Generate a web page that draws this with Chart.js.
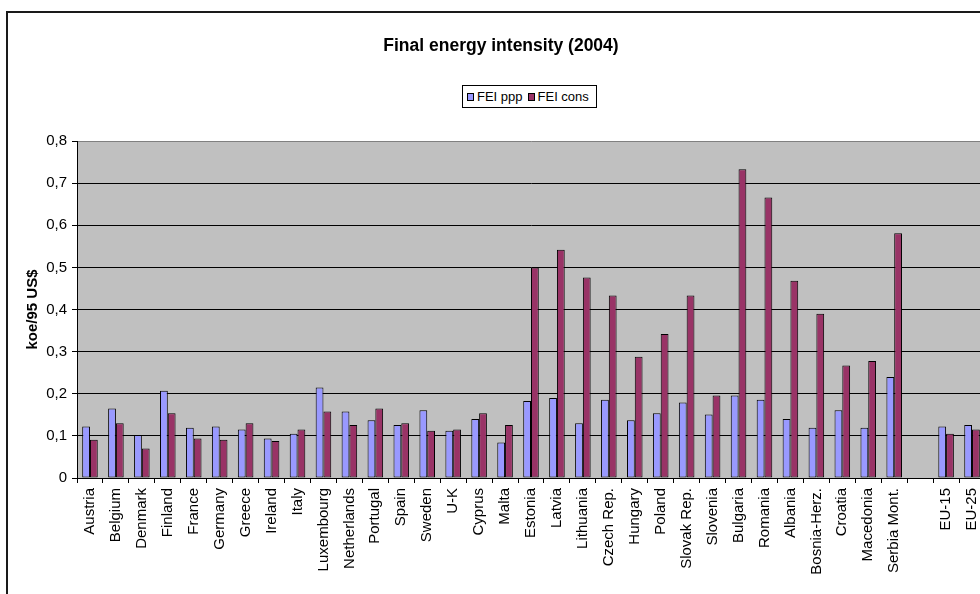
<!DOCTYPE html>
<html>
<head>
<meta charset="utf-8">
<script src="https://cdn.jsdelivr.net/npm/chart.js@4"></script>
<style>
  html, body { margin: 0; padding: 0; overflow: hidden; background: #fff; }
  body { width: 980px; height: 594px; position: relative; font-family: 'Liberation Sans', Arial, sans-serif; }
  #frame { position: absolute; left: 6px; top: 11px; width: 1100px; height: 700px; border-left: 2px solid #1a1a1a; border-top: 2px solid #1a1a1a; }
  #wrap { position: absolute; left: 0; top: 0; width: 1000px; height: 594px; }
  #title { position: absolute; left: 0; width: 1002px; top: 35px; text-align: center; font-weight: bold; font-size: 17.5px; color: #000; }
  #legend { position: absolute; left: 462px; top: 85px; width: 133px; height: 21px; border: 1px solid #000; background: #fff; font-size: 13px; line-height: 21px; color: #000; white-space: nowrap; }
  #legend span.box { display: inline-block; width: 5px; height: 6px; border: 1px solid #000; margin: 0 3px 0 4px; vertical-align: 0px; }
</style>
</head>
<body>
<div id="frame"></div>
<div id="wrap"><canvas id="barChartFEI"></canvas></div>
<div id="title">Final energy intensity (2004)</div>
<div id="legend"><span class="box" style="background:#9999FF"></span>FEI ppp<span class="box" style="background:#993366;margin-left:5px"></span>FEI cons</div>
<script>
var countries = ["Austria", "Belgium", "Denmark", "Finland", "France", "Germany", "Greece", "Ireland", "Italy", "Luxembourg",
  "Netherlands", "Portugal", "Spain", "Sweden", "U-K", "Cyprus", "Malta", "Estonia", "Latvia", "Lithuania",
  "Czech Rep.", "Hungary", "Poland", "Slovak Rep.", "Slovenia", "Bulgaria", "Romania", "Albania", "Bosnia-Herz.",
  "Croatia", "Macedonia", "Serbia Mont.", "", "EU-15", "EU-25"];

var feiPpp = [0.122, 0.165, 0.102, 0.207, 0.119, 0.122, 0.115, 0.094, 0.105, 0.215,
  0.158, 0.137, 0.126, 0.161, 0.112, 0.140, 0.084, 0.183, 0.190, 0.130,
  0.186, 0.137, 0.154, 0.179, 0.151, 0.196, 0.186, 0.140, 0.119,
  0.161, 0.119, 0.240, null, 0.122, 0.126];

var feiCons = [0.091, 0.130, 0.070, 0.154, 0.094, 0.091, 0.130, 0.088, 0.115, 0.158,
  0.126, 0.165, 0.130, 0.112, 0.115, 0.154, 0.126, 0.500, 0.542, 0.476,
  0.433, 0.288, 0.342, 0.433, 0.196, 0.733, 0.666, 0.468, 0.390,
  0.267, 0.278, 0.581, null, 0.105, 0.115];

var yTicks = [0, 0.1, 0.2, 0.3, 0.4, 0.5, 0.6, 0.7, 0.8];

Chart.defaults.font.family = "'Liberation Sans', Arial, sans-serif";
Chart.defaults.color = "#000";

// grey plot area behind the bars
var plotBackground = {
  id: 'plotBackground',
  beforeDraw: function (chart) {
    var a = chart.chartArea;
    var ctx = chart.ctx;
    ctx.save();
    ctx.fillStyle = '#C0C0C0';
    ctx.fillRect(a.left, a.top, a.right - a.left, a.bottom - a.top);
    ctx.restore();
  }
};

var ctxB = document.getElementById("barChartFEI").getContext('2d');
var feiChart = new Chart(ctxB, {
  type: 'bar',
  data: {
    labels: countries,
    datasets: [{
      label: 'FEI ppp',
      data: feiPpp,
      backgroundColor: '#9999FF',
      borderColor: '#000',
      borderWidth: 1,
      borderSkipped: false
    }, {
      label: 'FEI cons',
      data: feiCons,
      backgroundColor: '#993366',
      borderColor: '#000',
      borderWidth: 1,
      borderSkipped: false
    }]
  },
  options: {
    responsive: true,
    maintainAspectRatio: false,
    animation: false,
    events: [],
    categoryPercentage: 0.6,
    barPercentage: 1,
    layout: { padding: { left: 0, top: 141, right: 15, bottom: 0 } },
    plugins: {
      legend: { display: false },
      title: { display: false },
      tooltip: { enabled: false }
    },
    scales: {
      x: {
        grid: { offset: true, drawOnChartArea: false, drawTicks: true, tickLength: 5, color: '#000' },
        border: { color: '#000', width: 1 },
        ticks: { autoSkip: false, minRotation: 90, maxRotation: 90, padding: 5, font: { size: 15 } },
        afterFit: function (scale) { scale.height = 116; }
      },
      y: {
        min: 0,
        max: 0.8,
        afterBuildTicks: function (scale) {
          scale.ticks = yTicks.map(function (v) { return { value: v }; });
        },
        grid: {
          color: function (c) { return c.tick && c.tick.value === 0.8 ? '#808080' : '#000'; },
          tickColor: '#000',
          tickLength: 5,
          lineWidth: 1
        },
        border: { color: '#000', width: 1 },
        ticks: {
          padding: 5,
          font: { size: 15 },
          callback: function (v) { return v === 0 ? '0' : v.toFixed(1).replace('.', ','); }
        },
        title: {
          display: true,
          text: 'koe/95 US$',
          font: { size: 15, weight: 'bold' },
          padding: { top: 24, bottom: 0 }
        },
        afterFit: function (scale) { scale.width = 77; }
      }
    }
  },
  plugins: [plotBackground]
});
</script>
</body>
</html>
